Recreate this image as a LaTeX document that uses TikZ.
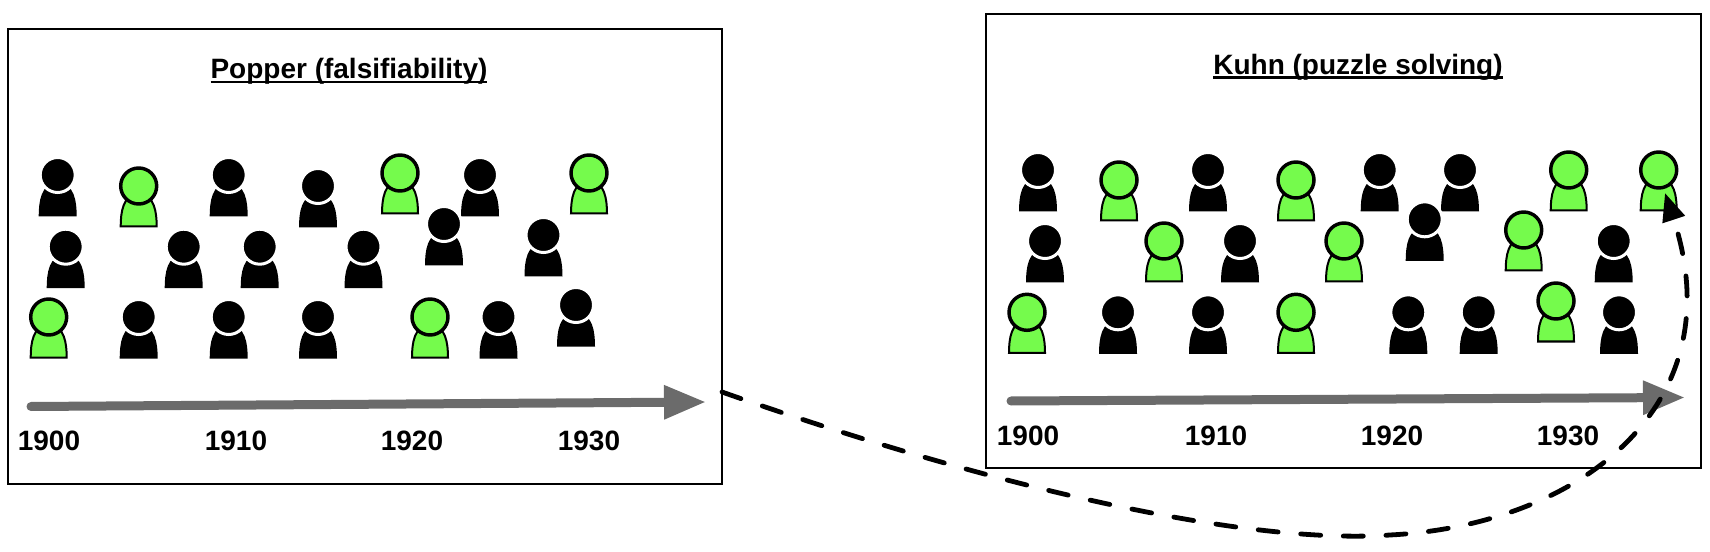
\documentclass[tikz,border=0pt]{standalone}
\usepackage{fontspec}
\setmainfont{Liberation Sans}
\usetikzlibrary{arrows.meta}
\definecolor{mangreen}{HTML}{75FB4C}
\definecolor{axisgray}{HTML}{6B6B6B}
\newcommand{\titleline}[1]{\setbox0=\hbox{#1}\rlap{\raisebox{-3.4pt}{\rule{\wd0}{1.7pt}}}\box0}
\tikzset{
  frame/.style = {draw, line width=1.5pt, inner sep=0pt, minimum width=#1},
  title/.style = {font=\bfseries\fontsize{21}{24}\selectfont},
  year/.style = {font=\bfseries\fontsize{21}{24}\selectfont},
  axis/.style = {draw=axisgray, line width=6.75pt, line cap=round, -{Triangle[length=31.5pt,width=24pt,fill=axisgray]}},
  jump/.style = {line width=3.6pt, line cap=round, dash pattern=on 15pt off 17pt, -{Triangle[length=21pt,width=17pt]}},
  blackman/.pic = {
    \fill (-19,41.5) -- (19,41.5) .. controls (19,27) and (17,8) .. (0,8) .. controls (-17,8) and (-19,27) .. (-19,41.5) -- cycle;
    \draw[white, line width=2.25pt, fill=black] (0,0) circle (17.5);
  },
  greenman/.pic = {
    \draw[fill=mangreen, line width=1.5pt] (-18,40.5) -- (18,40.5) .. controls (18,27) and (16,8) .. (0,8) .. controls (-16,8) and (-18,27) .. (-18,40.5) -- cycle;
    \draw[fill=mangreen, line width=2.6pt] (0,0) circle (18);
  },
}
\begin{document}
\begin{tikzpicture}[x=0.75pt, y=-0.75pt]
\useasboundingbox (0,0) rectangle (1710,552);
\node[frame=535.5pt, minimum height=340.5pt] (popperbox) at (365,256.5) {};
\node[frame=536.25pt, minimum height=340.5pt] (kuhnbox) at (1343.5,241) {};
\node[title] (poppertitle) at (349,71) {\titleline{Popper (falsifiability)}};
\node[title] (kuhntitle) at (1358,67) {\titleline{Kuhn (puzzle solving)}};
% first panel
\foreach \px/\py [count=\i] in {57.7/175, 228.7/175, 318/186, 480/175, 65.7/246.7, 183.7/246.7, 259.7/246.7, 363.5/246.7, 444/224, 543.5/235, 138.7/317, 228.7/317, 318/317, 498.5/317, 576/305}
  \pic (pb\i) at (\px,\py) {blackman};
\foreach \px/\py [count=\i] in {138.7/186, 400/173, 589/173, 48.7/317, 430/317}
  \pic (pg\i) at (\px,\py) {greenman};
% second panel
\foreach \px/\py [count=\i] in {1038/170, 1208/170, 1379.7/170, 1460/170, 1045/241, 1240/241, 1424.7/219.3, 1613.7/241, 1118/312.3, 1208/312.3, 1408.3/312.3, 1478.7/312.3, 1619/312.3}
  \pic (kb\i) at (\px,\py) {blackman};
\foreach \px/\py [count=\i] in {1119/180, 1296/180, 1568.7/170, 1658.7/170, 1164/241, 1344/241, 1523.7/230, 1027/312.3, 1296/312.3, 1556/301}
  \pic (kg\i) at (\px,\py) {greenman};
% time axes
\coordinate (pstart) at (31,406.5);
\coordinate (pend) at (706,402);
\coordinate (kstart) at (1011,401);
\coordinate (kend) at (1685,397.5);
\draw[axis] (pstart) -- (pend);
\draw[axis] (kstart) -- (kend);
\foreach \yr/\px in {1900/49, 1910/236, 1920/412, 1930/589}
  \node[year] (p\yr) at (\px,441) {\yr};
\foreach \yr/\px in {1900/1028, 1910/1216, 1920/1392, 1930/1568}
  \node[year] (k\yr) at (\px,436) {\yr};
% jump between panels
\coordinate (jumpstart) at (722,392);
\coordinate (jumplow) at (1390,535);
\coordinate (jumpend) at (1665,193);
\draw[jump] (jumpstart) .. controls (1000,490) and (1250,545) .. (jumplow) .. controls (1580,525) and (1735,405) .. (jumpend);
\end{tikzpicture}
\end{document}
